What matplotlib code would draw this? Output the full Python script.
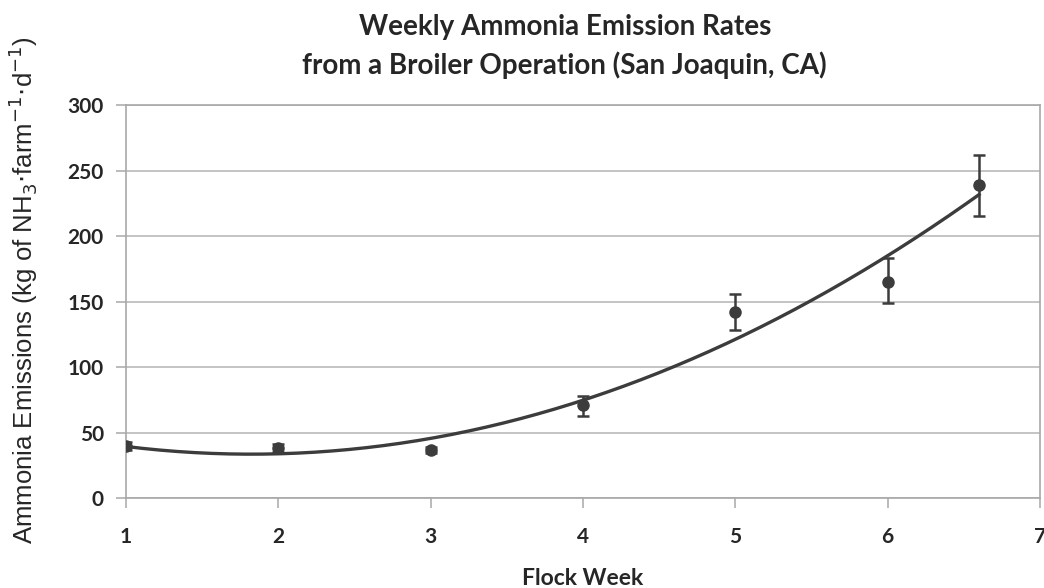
import numpy as np
import matplotlib
matplotlib.use("Agg")
import matplotlib.pyplot as plt

# flock week vs ammonia emission
week = [1, 2, 3, 4, 5, 6, 6.6]
emission = [39.5, 38, 36.6, 71, 142, 165, 239]
err_lo = [3, 3, 2.5, 8, 14, 16, 24]
err_hi = [3, 3, 2.5, 7, 14, 18, 23]

title_lines = ["Weekly Ammonia Emission Rates", "from a Broiler Operation (San Joaquin, CA)"]

plt.rcParams['font.family'] = ['Lato', 'DejaVu Sans']

fig = plt.figure(figsize=(10.44, 5.88), dpi=100)
ax = fig.add_axes([0.1207, 0.153, 0.8755, 0.6684])

dark = '#3c3c3c'
grey = '#a8a8a8'

# 2nd order trend line (like the excel trendline)
coef = np.polyfit(week, emission, 2)
xs = np.linspace(week[0], week[-1], 200)
ax.plot(xs, np.polyval(coef, xs), color=dark, lw=2.4, zorder=3)

ax.errorbar(week, emission, yerr=[err_lo, err_hi], fmt='o', color=dark,
            ms=8, ecolor=dark, elinewidth=1.8, capsize=4, capthick=1.8, zorder=4)

ax.set_xlim(1, 7)
ax.set_ylim(0, 300)
ax.set_xticks(range(1, 8))
ax.set_yticks(range(0, 301, 50))
ax.yaxis.grid(True, color='#b4b4b4', lw=1.1)
ax.set_axisbelow(True)
for s in ax.spines.values():
    s.set_color(grey)
    s.set_linewidth(1.2)
ax.tick_params(axis='both', colors=grey, length=7, width=1.1, direction='out')
ax.tick_params(axis='x', labelcolor='#262626', labelsize=15, pad=14)
ax.tick_params(axis='y', labelcolor='#262626', labelsize=15, pad=9)
for lab in ax.get_xticklabels() + ax.get_yticklabels():
    lab.set_fontweight('bold')

ax.set_ylabel(r"Ammonia Emissions (kg of NH$_3$$\cdot$farm$^{-1}$$\cdot$d$^{-1}$)",
              fontsize=18.5, color='#262626', family='Liberation Sans', labelpad=10)
ax.yaxis.set_label_coords(-0.094, 0.53)

fig.text(0.558, 0.017, "Flock Week", ha='center', va='center', fontsize=16.5,
         fontweight='bold', color='#262626')

fig.text(0.541, 0.954, title_lines[0], ha='center', va='center', fontsize=20,
         fontweight='bold', color='#262626')
fig.text(0.541, 0.889, title_lines[1], ha='center', va='center', fontsize=20,
         fontweight='bold', color='#262626')

fig.savefig("out.png", dpi=100)
